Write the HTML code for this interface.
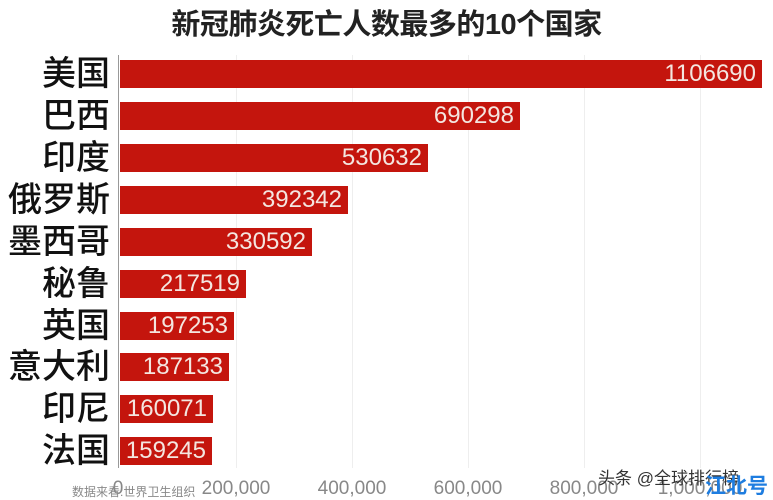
<!DOCTYPE html>
<html><head><meta charset="utf-8"><style>
html,body{margin:0;padding:0;background:#fff;}
body{width:773px;height:500px;position:relative;overflow:hidden;font-family:"Liberation Sans","Noto Sans CJK SC",sans-serif;}
.t{position:absolute;left:0;width:773px;top:1px;text-align:center;font-size:29px;font-weight:bold;color:#222;letter-spacing:-0.5px;}
.lab{position:absolute;right:663px;font-size:34px;font-weight:500;color:#111;line-height:28px;white-space:nowrap;}
.bar{position:absolute;left:120px;height:28px;background:#c4150d;}
.v{position:absolute;right:6px;top:0;line-height:28px;font-size:24px;color:#f4e6e0;}
.g{position:absolute;top:55px;height:413px;width:1px;background:#eee;}
.tk{position:absolute;top:478px;font-size:19px;color:#888;transform:translateX(-50%);}
</style></head><body>
<div class="t">新冠肺炎死亡人数最多的10个国家</div>
<div class="g" style="left:236px"></div>
<div class="g" style="left:352px"></div>
<div class="g" style="left:468px"></div>
<div class="g" style="left:584px"></div>
<div class="g" style="left:700px"></div>
<div style="position:absolute;left:118px;top:55px;width:1px;height:413px;background:#999"></div>

<div class="lab" style="top:60px">美国</div><div class="bar" style="top:60px;width:642px"><span class="v">1106690</span></div>
<div class="lab" style="top:102px">巴西</div><div class="bar" style="top:102px;width:400px"><span class="v">690298</span></div>
<div class="lab" style="top:144px">印度</div><div class="bar" style="top:144px;width:308px"><span class="v">530632</span></div>
<div class="lab" style="top:186px">俄罗斯</div><div class="bar" style="top:186px;width:228px"><span class="v">392342</span></div>
<div class="lab" style="top:228px">墨西哥</div><div class="bar" style="top:228px;width:192px"><span class="v">330592</span></div>
<div class="lab" style="top:270px">秘鲁</div><div class="bar" style="top:270px;width:126px"><span class="v">217519</span></div>
<div class="lab" style="top:312px">英国</div><div class="bar" style="top:312px;width:114px"><span class="v">197253</span></div>
<div class="lab" style="top:353px">意大利</div><div class="bar" style="top:353px;width:109px"><span class="v">187133</span></div>
<div class="lab" style="top:395px">印尼</div><div class="bar" style="top:395px;width:93px"><span class="v">160071</span></div>
<div class="lab" style="top:437px">法国</div><div class="bar" style="top:437px;width:92px"><span class="v">159245</span></div>

<div style="position:absolute;left:72px;top:483px;font-size:12px;color:#888">数据来看:世界卫生组织</div>
<div class="tk" style="left:118px">0</div>
<div class="tk" style="left:236px">200,000</div>
<div class="tk" style="left:352px">400,000</div>
<div class="tk" style="left:468px">600,000</div>
<div class="tk" style="left:584px">800,000</div>
<div class="tk" style="left:700px">1,000,000</div>
<div style="position:absolute;left:598px;top:464px;font-size:17px;color:#333">头条 @全球排行榜</div>
<div style="position:absolute;left:705px;top:470px;font-size:21px;font-weight:bold;color:#1e7de0">江北号</div>
</body></html>
